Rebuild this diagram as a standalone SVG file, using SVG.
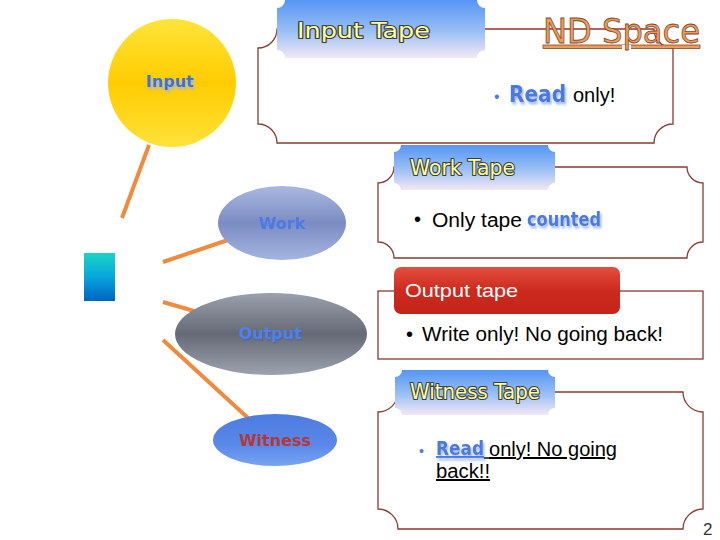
<svg xmlns="http://www.w3.org/2000/svg" width="720" height="540" viewBox="0 0 720 540">
<defs>
<linearGradient id="tab" x1="0" y1="0" x2="0" y2="1"><stop offset="0" stop-color="#5596f4"/><stop offset="0.55" stop-color="#9cc0f4"/><stop offset="1" stop-color="#f4e8f4"/></linearGradient>
<linearGradient id="red" x1="0" y1="0" x2="0" y2="1"><stop offset="0" stop-color="#e2503e"/><stop offset="0.5" stop-color="#cc2a1e"/><stop offset="1" stop-color="#c42418"/></linearGradient>
<linearGradient id="sun" x1="0" y1="0" x2="0" y2="1"><stop offset="0" stop-color="#ffe43a"/><stop offset="0.5" stop-color="#ffcc00"/><stop offset="1" stop-color="#ffe23a"/></linearGradient>
<linearGradient id="work" x1="0" y1="0" x2="0" y2="1"><stop offset="0" stop-color="#a9b8e2"/><stop offset="0.5" stop-color="#7b8cc2"/><stop offset="1" stop-color="#a4b4e2"/></linearGradient>
<linearGradient id="out" x1="0" y1="0" x2="0" y2="1"><stop offset="0" stop-color="#9aa0ac"/><stop offset="0.5" stop-color="#656a76"/><stop offset="1" stop-color="#9ca2ae"/></linearGradient>
<linearGradient id="wit" x1="0" y1="0" x2="0" y2="1"><stop offset="0" stop-color="#4c7ce0"/><stop offset="0.6" stop-color="#5a88e8"/><stop offset="1" stop-color="#78a4f2"/></linearGradient>
<linearGradient id="sq" x1="0" y1="0" x2="0" y2="1"><stop offset="0" stop-color="#1ad4c6"/><stop offset="0.5" stop-color="#06a6dc"/><stop offset="1" stop-color="#0062c4"/></linearGradient>
<filter id="sh" x="-20%" y="-30%" width="140%" height="170%"><feDropShadow dx="1.5" dy="2.5" stdDeviation="0.8" flood-color="#9fb6ea"/></filter>
<filter id="sh2" x="-20%" y="-30%" width="140%" height="170%"><feDropShadow dx="1" dy="1.5" stdDeviation="0.6" flood-color="#4060b0" flood-opacity="0.6"/></filter>
<filter id="blur" x="-20%" y="-30%" width="140%" height="170%"><feGaussianBlur stdDeviation="0.7"/></filter>
</defs>
<style>
.box{fill:#fff;stroke:#8a3a30;stroke-width:1.3}
.tabt{font-family:"DejaVu Sans",sans-serif;font-size:21px;fill:#ffff9c;stroke:#3a3a3a;stroke-width:2.2;paint-order:stroke;stroke-linejoin:round}
.body{font-family:"Liberation Sans",sans-serif;font-size:20px;fill:#000}
.em{font-family:"DejaVu Sans",sans-serif;font-weight:bold;fill:#4a7ae2}
.node{font-family:"DejaVu Sans",sans-serif;font-weight:bold;font-size:16px;text-anchor:middle}
.conn{stroke:#ef8a3e;stroke-width:4;fill:none}
</style>

<g id="connectors">
<line class="conn" x1="149" y1="145" x2="122" y2="218"/>
<line class="conn" x1="163" y1="262" x2="228" y2="240"/>
<line class="conn" x1="163" y1="302" x2="194" y2="311"/>
<line class="conn" x1="163" y1="340" x2="248" y2="418"/>
</g>

<g id="input-node">
<circle cx="172" cy="83" r="64" fill="url(#sun)"/>
<text class="node" x="170" y="87" fill="#3d6fd8" filter="url(#sh)">Input</text>
</g>

<g id="square">
<rect x="84" y="253" width="31" height="48" fill="url(#sq)"/>
</g>

<g id="work-node">
<ellipse cx="282" cy="223" rx="64" ry="37" fill="url(#work)"/>
<text class="node" x="282" y="229" fill="#4a7ae8" filter="url(#blur)">Work</text>
</g>

<g id="output-node">
<ellipse cx="271" cy="334" rx="96" ry="41" fill="url(#out)"/>
<text class="node" x="270" y="339" fill="#5080ec" filter="url(#sh2)">Output</text>
</g>

<g id="witness-node">
<ellipse cx="275" cy="440" rx="62" ry="26" fill="url(#wit)"/>
<text class="node" x="275" y="446" fill="#b53838">Witness</text>
</g>

<g id="input-tape">
<path class="box" d="M277,29 L654,29 A19,19 0 0 0 673,48 L673,124 A19,19 0 0 0 654,143 L277,143 A19,19 0 0 0 258,124 L258,48 A19,19 0 0 0 277,29 Z"/>
<path fill="url(#tab)" d="M285,0 L477,0 A8,8 0 0 0 485,8 L485,50 A8,8 0 0 0 477,58 L285,58 A8,8 0 0 0 277,50 L277,8 A8,8 0 0 0 285,0 Z"/>
<text class="tabt" x="297" y="38" textLength="133" lengthAdjust="spacingAndGlyphs">Input Tape</text>
<text x="494" y="102" font-family="Liberation Sans,sans-serif" font-size="16" fill="#4a7ae2">•</text>
<text x="509" y="102" class="em" font-size="23" filter="url(#sh)" textLength="57" lengthAdjust="spacingAndGlyphs">Read</text>
<text x="573" y="102" class="body" font-size="24">only!</text>
</g>

<g id="nd-space">
<text x="543" y="43" font-family="DejaVu Sans,sans-serif" font-size="34" fill="#f29a5a" stroke="#7a4a2a" stroke-width="0.8" text-decoration="underline" textLength="157" lengthAdjust="spacingAndGlyphs">ND Space</text>
</g>

<g id="work-tape">
<path class="box" d="M394,167 L687,167 A16,16 0 0 0 703,183 L703,242 A16,16 0 0 0 687,258 L394,258 A16,16 0 0 0 378,242 L378,183 A16,16 0 0 0 394,167 Z"/>
<path fill="url(#tab)" d="M401,145 L548,145 A7,7 0 0 0 555,152 L555,183 A7,7 0 0 0 548,190 L401,190 A7,7 0 0 0 394,183 L394,152 A7,7 0 0 0 401,145 Z"/>
<text class="tabt" x="410" y="175" textLength="105" lengthAdjust="spacingAndGlyphs">Work Tape</text>
<text x="414" y="226" class="body">•</text>
<text x="432" y="227" class="body" textLength="90" lengthAdjust="spacingAndGlyphs">Only tape</text>
<text x="527" y="226" class="em" font-size="19" filter="url(#sh)" textLength="74" lengthAdjust="spacingAndGlyphs">counted</text>
</g>

<g id="output-tape">
<rect class="box" x="378" y="291" width="325" height="68"/>
<rect x="394" y="267" width="226" height="47" rx="7" fill="url(#red)"/>
<text x="405" y="297" font-family="Liberation Sans,sans-serif" font-size="19" fill="#fff" textLength="113" lengthAdjust="spacingAndGlyphs">Output tape</text>
<text x="406" y="341" class="body">•</text>
<text x="422" y="341" class="body" textLength="241" lengthAdjust="spacingAndGlyphs">Write only! No going back!</text>
</g>

<g id="witness-tape">
<path class="box" d="M398,392 L683,392 A20,20 0 0 0 703,412 L703,509 A20,20 0 0 0 683,529 L398,529 A20,20 0 0 0 378,509 L378,412 A20,20 0 0 0 398,392 Z"/>
<path fill="url(#tab)" d="M402,370 L548,370 A7,7 0 0 0 555,377 L555,408 A7,7 0 0 0 548,415 L402,415 A7,7 0 0 0 395,408 L395,377 A7,7 0 0 0 402,370 Z"/>
<text class="tabt" x="410" y="399" textLength="130" lengthAdjust="spacingAndGlyphs">Witness Tape</text>
<text x="419" y="456" font-family="Liberation Sans,sans-serif" font-size="14" fill="#4a7ae2">•</text>
<text x="436" y="455" class="em" font-size="19" filter="url(#sh)" text-decoration="underline" textLength="48" lengthAdjust="spacingAndGlyphs">Read</text>
<line x1="484" y1="458" x2="489" y2="458" stroke="#000" stroke-width="1.4"/>
<text x="489" y="456" class="body" text-decoration="underline" textLength="128" lengthAdjust="spacingAndGlyphs">only! No going</text>
<text x="436" y="478" class="body" text-decoration="underline" textLength="54" lengthAdjust="spacingAndGlyphs">back!!</text>
</g>

<g id="page-number">
<text x="703" y="535" font-family="Liberation Sans,sans-serif" font-size="17" fill="#333">2</text>
</g>
</svg>
